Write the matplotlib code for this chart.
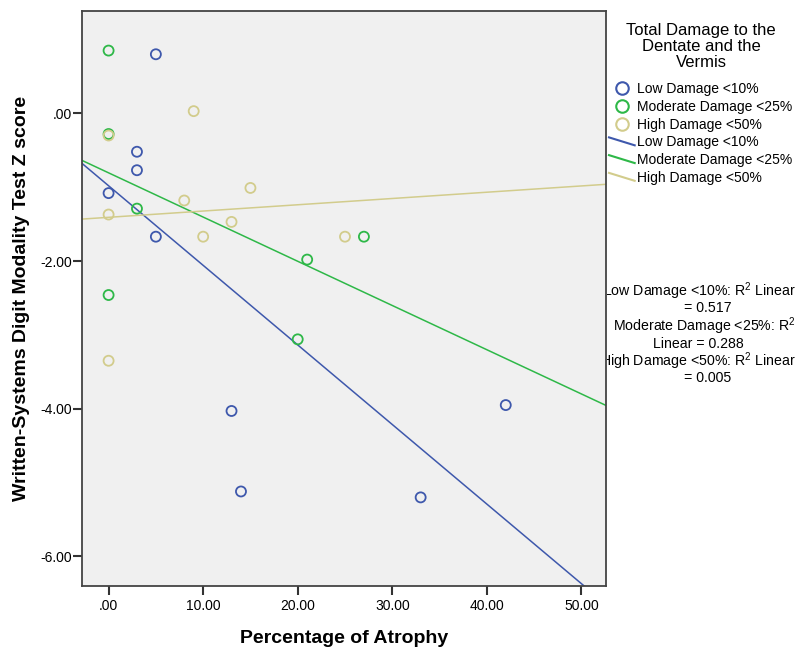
import numpy as np
import matplotlib
matplotlib.use("Agg")
import matplotlib.pyplot as plt
from matplotlib.lines import Line2D
from matplotlib.legend_handler import HandlerLine2D
from matplotlib.transforms import Bbox, TransformedBbox

plt.rcParams['font.family'] = ['Liberation Sans', 'DejaVu Sans']
plt.rcParams['mathtext.fontset'] = 'custom'
plt.rcParams['mathtext.rm'] = 'Liberation Sans'
plt.rcParams['mathtext.it'] = 'Liberation Sans:italic'

# ---- data ----
low_x = [5, 3, 3, 0, 5, 13, 14, 33, 42]
low_y = [0.80, -0.52, -0.77, -1.08, -1.67, -4.03, -5.12, -5.20, -3.95]
mod_x = [0, 0, 3, 27, 21, 0, 20]
mod_y = [0.85, -0.28, -1.29, -1.67, -1.98, -2.46, -3.06]
high_x = [9, 0, 8, 15, 0, 13, 10, 25, 0]
high_y = [0.03, -0.30, -1.18, -1.01, -1.37, -1.47, -1.67, -1.67, -3.35]
group_names = ["Low Damage <10%", "Moderate Damage <25%", "High Damage <50%"]
r2_values = ["0.517", "0.288", "0.005"]
xticks = [0, 10, 20, 30, 40, 50]
xtick_labels = [".00", "10.00", "20.00", "30.00", "40.00", "50.00"]
yticks = [0, -2, -4, -6]
ytick_labels = [".00", "-2.00", "-4.00", "-6.00"]

colors = ["#3E58AC", "#2EB848", "#D2CC8C"]

W, H = 798, 647
fig = plt.figure(figsize=(W / 100, H / 100), dpi=100)
fig.patch.set_facecolor("white")
ax = fig.add_axes([82.3 / W, 1 - 586 / H, (606 - 82.3) / W, (586 - 10.7) / H])
ax.set_facecolor("#F0F0F0")
xlim = (-2.78, 52.6)
ax.set_xlim(*xlim)
ax.set_ylim(-6.40, 1.39)

groups = [(low_x, low_y), (mod_x, mod_y), (high_x, high_y)]
for (gx, gy), c in zip(groups, colors):
    ax.scatter(gx, gy, s=52, facecolors="none", edgecolors=c, linewidths=1.3, zorder=3)
for (gx, gy), c in zip(groups, colors):
    slope, inter = np.polyfit(gx, gy, 1)
    xs = np.array(xlim)
    ax.plot(xs, inter + slope * xs, color=c, lw=1.1, zorder=2)

ax.set_xticks(xticks)
ax.set_xticklabels(xtick_labels, fontsize=10)
ax.set_yticks(yticks)
ax.set_yticklabels(ytick_labels, fontsize=10)
ax.tick_params(direction="out", length=6.5, width=1.5, color="#333333")
ax.tick_params(axis="y", pad=1)
ax.tick_params(axis="x", pad=3)
for s in ax.spines.values():
    s.set_color("#444444")
    s.set_linewidth(1.3)
ax.set_xlabel("Percentage of Atrophy", fontsize=14, fontweight="bold", labelpad=12)
ax.set_ylabel("Written-Systems Digit Modality Test Z score", fontsize=14,
              fontweight="bold", labelpad=7)


class HandlerDiag(HandlerLine2D):
    def create_artists(self, legend, orig_handle, xdescent, ydescent, width,
                       height, fontsize, trans):
        ln = Line2D([-xdescent, -xdescent + width],
                    [-ydescent + height * 0.95, -ydescent + height * 0.05])
        self.update_prop(ln, orig_handle, legend)
        ln.set_transform(trans)
        return [ln]


handles = []
labels = []
for c, name in zip(colors, group_names):
    handles.append(Line2D([], [], ls="none", marker="o", markersize=9,
                          markerfacecolor="none", markeredgecolor=c, markeredgewidth=1.5))
    labels.append(name)
line_handles = []
for c, name in zip(colors, group_names):
    h = Line2D([], [], color=c, lw=1.5)
    handles.append(h)
    line_handles.append(h)
    labels.append(name)

fig.text(701 / W, 1 - 46.5 / H, "Total Damage to the\nDentate and the\nVermis",
         ha="center", va="center", fontsize=12, multialignment="center",
         linespacing=1.1)

leg = fig.legend(handles, labels, loc="upper left",
                 bbox_to_anchor=(609 / W, 1 - 82 / H),
                 frameon=False, fontsize=10,
                 handlelength=1.85, handletextpad=0.2, labelspacing=0.27,
                 borderaxespad=0, borderpad=0.0, handleheight=0.6,
                 handler_map={h: HandlerDiag() for h in line_handles})

r2_lines = [
    f"Low Damage <10%: R$^2$ Linear",
    f"= {r2_values[0]}",
    f"Moderate Damage <25%: R$^2$",
    f"Linear = {r2_values[1]}",
    f"High Damage <50%: R$^2$ Linear",
    f"= {r2_values[2]}",
]
r2_y = [291, 308.5, 326, 343.5, 361, 378.5]
r2_x = [699, 708, 704, 698, 698, 708]
clip = TransformedBbox(Bbox([[607 / W, 0], [1, 1]]), fig.transFigure)
for line, xx, yy in zip(r2_lines, r2_x, r2_y):
    t = fig.text(xx / W, 1 - yy / H, line, ha="center", va="center", fontsize=10.2)
    t.set_clip_on(True)
    t.set_clip_box(clip)

fig.savefig("out.png", dpi=100)
